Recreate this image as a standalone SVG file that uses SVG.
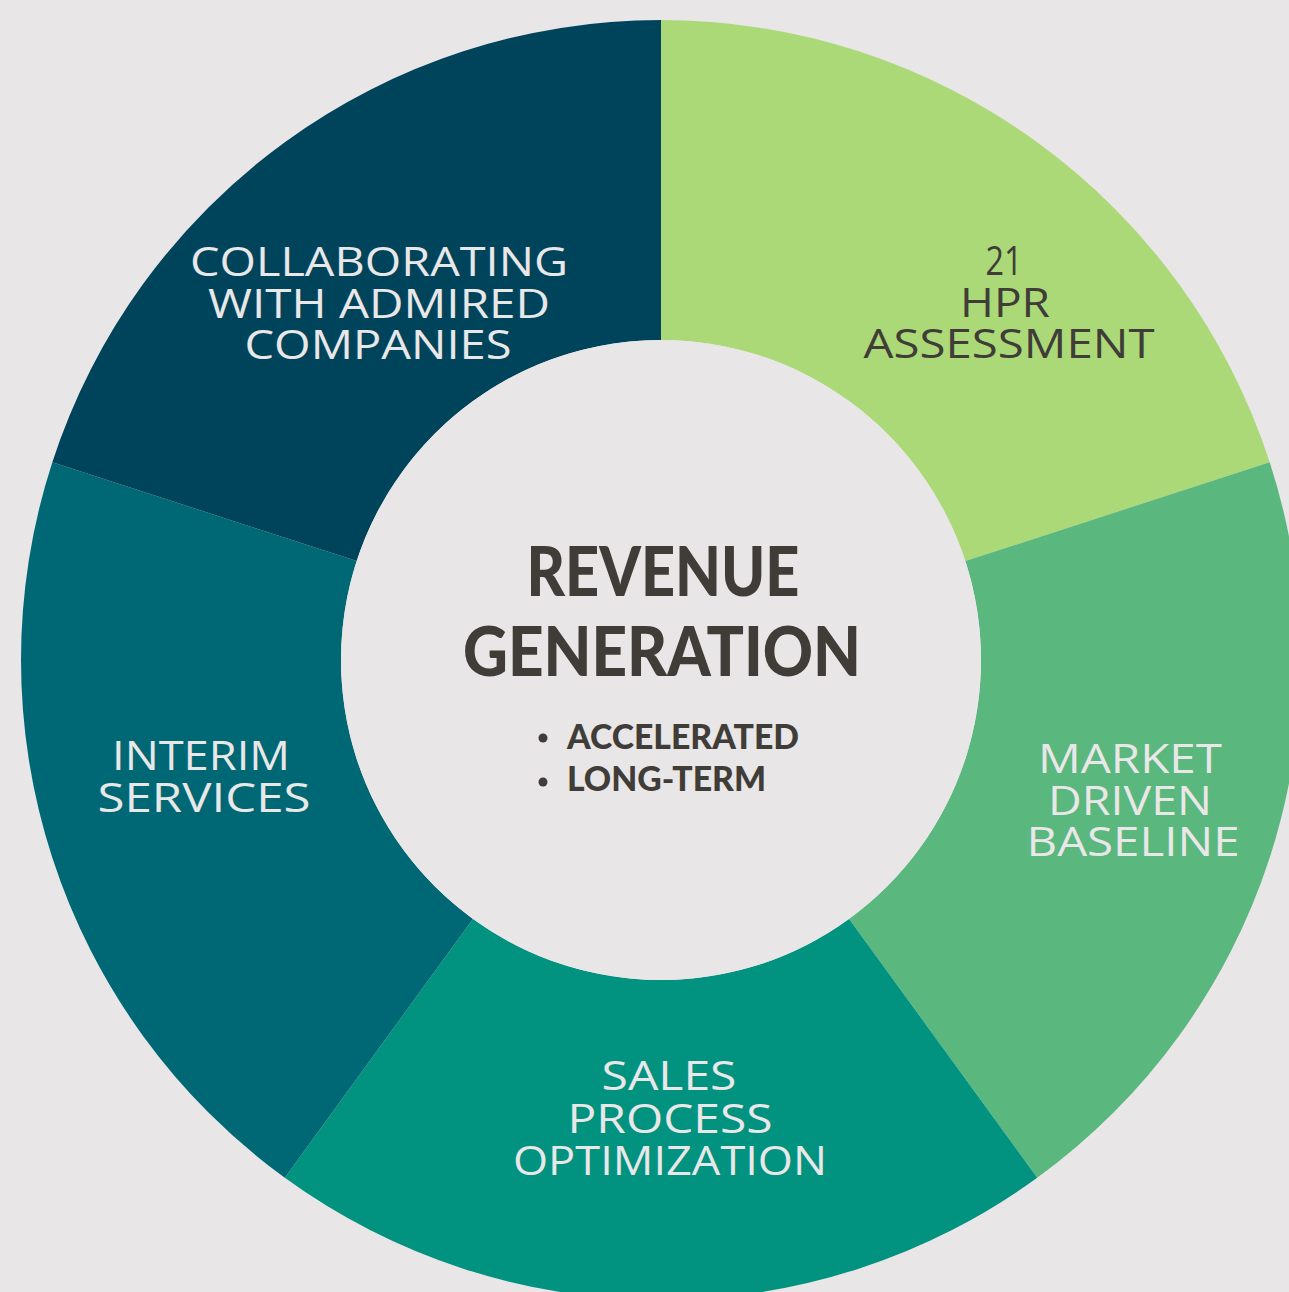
<svg xmlns="http://www.w3.org/2000/svg" width="1289" height="1292" viewBox="0 0 1289 1292">
<style>
.lbl{font-family:"Open Sans","Noto Sans","Liberation Sans",sans-serif;font-size:40px;text-anchor:middle;fill:#E9E7E7}
.dark{fill:#403D39}
.title{font-family:"Lato","Roboto","Liberation Sans",sans-serif;font-weight:900;font-size:68px;text-anchor:middle;fill:#403D39}
.sub{font-family:"Lato","Roboto","Liberation Sans",sans-serif;font-weight:900;font-size:34px;fill:#403D39}
</style>
<rect width="1289" height="1292" fill="#E8E6E6"/>
<g id="seg-hpr">
<path d="M661,20 A640,640 0 0 1 1269.68,462.23 L965.34,561.11 A320,320 0 0 0 661,340 Z" fill="#ACD977"/>
<text class="lbl dark" x="1004" y="275" textLength="37" lengthAdjust="spacingAndGlyphs">21</text>
<text class="lbl dark" x="1005" y="317" textLength="90" lengthAdjust="spacingAndGlyphs">HPR</text>
<text class="lbl dark" x="1009" y="358" textLength="291" lengthAdjust="spacingAndGlyphs">ASSESSMENT</text>
</g>
<g id="seg-market">
<path d="M1269.68,462.23 A640,640 0 0 1 1037.18,1177.77 L849.09,918.89 A320,320 0 0 0 965.34,561.11 Z" fill="#5AB77E"/>
<text class="lbl" x="1130" y="773" textLength="184" lengthAdjust="spacingAndGlyphs">MARKET</text>
<text class="lbl" x="1130" y="815" textLength="164" lengthAdjust="spacingAndGlyphs">DRIVEN</text>
<text class="lbl" x="1133" y="856" textLength="213" lengthAdjust="spacingAndGlyphs">BASELINE</text>
</g>
<g id="seg-sales">
<path d="M1037.18,1177.77 A640,640 0 0 1 284.82,1177.77 L472.91,918.89 A320,320 0 0 0 849.09,918.89 Z" fill="#029280"/>
<text class="lbl" x="669" y="1090" textLength="135" lengthAdjust="spacingAndGlyphs">SALES</text>
<text class="lbl" x="670" y="1133" textLength="205" lengthAdjust="spacingAndGlyphs">PROCESS</text>
<text class="lbl" x="670" y="1175" textLength="314" lengthAdjust="spacingAndGlyphs">OPTIMIZATION</text>
</g>
<g id="seg-interim">
<path d="M284.82,1177.77 A640,640 0 0 1 52.32,462.23 L356.66,561.11 A320,320 0 0 0 472.91,918.89 Z" fill="#006874"/>
<text class="lbl" x="201" y="770" textLength="178" lengthAdjust="spacingAndGlyphs">INTERIM</text>
<text class="lbl" x="204" y="812" textLength="213" lengthAdjust="spacingAndGlyphs">SERVICES</text>
</g>
<g id="seg-collab">
<path d="M52.32,462.23 A640,640 0 0 1 661,20 L661,340 A320,320 0 0 0 356.66,561.11 Z" fill="#00445C"/>
<text class="lbl" x="379" y="276" textLength="378" lengthAdjust="spacingAndGlyphs">COLLABORATING</text>
<text class="lbl" x="379" y="318" textLength="342" lengthAdjust="spacingAndGlyphs">WITH ADMIRED</text>
<text class="lbl" x="378" y="359" textLength="267" lengthAdjust="spacingAndGlyphs">COMPANIES</text>
</g>
<g id="center">
<circle cx="661" cy="660" r="320" fill="#E8E6E6"/>
<text class="title" x="663" y="596" textLength="273" lengthAdjust="spacingAndGlyphs">REVENUE</text>
<text class="title" x="662" y="676" textLength="398" lengthAdjust="spacingAndGlyphs">GENERATION</text>
<circle cx="543" cy="738" r="4.5" fill="#403D39"/>
<circle cx="543" cy="782" r="4.5" fill="#403D39"/>
<text class="sub" x="567" y="749" textLength="232" lengthAdjust="spacingAndGlyphs">ACCELERATED</text>
<text class="sub" x="567" y="791" textLength="199" lengthAdjust="spacingAndGlyphs">LONG-TERM</text>
</g>
<g id="connectors"/>
</svg>
